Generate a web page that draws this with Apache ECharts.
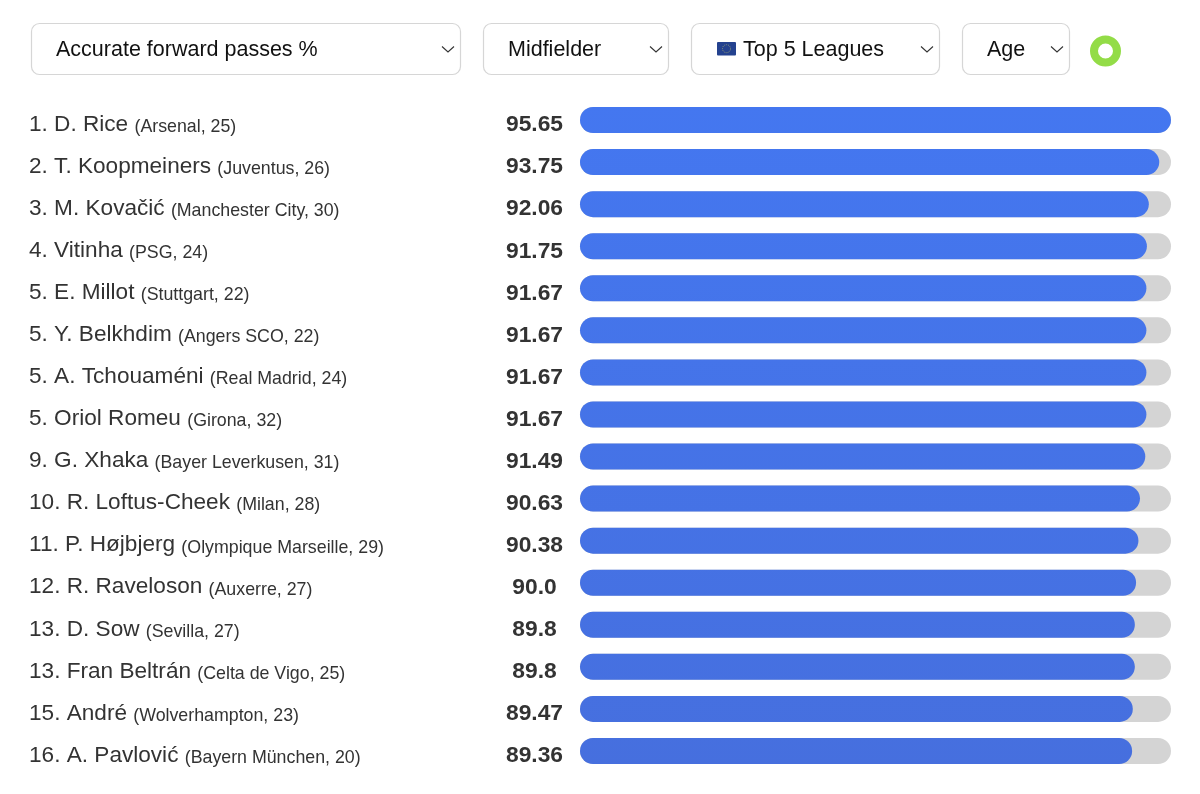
<!DOCTYPE html>
<html>
<head>
<meta charset="utf-8">
<style>
  html, body { margin: 0; padding: 0; background: #fff; }
  #chart { width: 1200px; height: 794px; }
</style>
<script src="https://cdn.jsdelivr.net/npm/echarts@6/dist/echarts.min.js"></script>
</head>
<body>
<div id="chart"></div>
<script>
const ranks = [1, 2, 3, 4, 5, 5, 5, 5, 9, 10, 11, 12, 13, 13, 15, 16];
const players = ["D. Rice", "T. Koopmeiners", "M. Kovačić", "Vitinha", "E. Millot", "Y. Belkhdim", "A. Tchouaméni", "Oriol Romeu", "G. Xhaka", "R. Loftus-Cheek", "P. Højbjerg", "R. Raveloson", "D. Sow", "Fran Beltrán", "André", "A. Pavlović"];
const teams = ["Arsenal", "Juventus", "Manchester City", "PSG", "Stuttgart", "Angers SCO", "Real Madrid", "Girona", "Bayer Leverkusen", "Milan", "Olympique Marseille", "Auxerre", "Sevilla", "Celta de Vigo", "Wolverhampton", "Bayern München"];
const ages = [25, 26, 30, 24, 22, 22, 24, 32, 31, 28, 29, 27, 27, 25, 23, 20];
const values = [95.65, 93.75, 92.06, 91.75, 91.67, 91.67, 91.67, 91.67, 91.49, 90.63, 90.38, 90.0, 89.8, 89.8, 89.47, 89.36];
const valueLabels = ["95.65", "93.75", "92.06", "91.75", "91.67", "91.67", "91.67", "91.67", "91.49", "90.63", "90.38", "90.0", "89.8", "89.8", "89.47", "89.36"];

// dropdowns above the chart: label, box left, box right, text left
const dropdowns = [
  ["Accurate forward passes %", 31, 461, 56],
  ["Midfielder", 483, 669, 508],
  ["Top 5 Leagues", 691, 940, 743],
  ["Age", 962, 1070, 987]
];

const font = '"Liberation Sans", Arial, sans-serif';

const headerItems = [];
dropdowns.forEach(function (d) {
  headerItems.push({
    type: "rect",
    shape: { x: d[1] + 0.5, y: 23.5, width: d[2] - d[1] - 1, height: 51, r: 8 },
    style: { fill: "#fff", stroke: "#d6d6d6", lineWidth: 1.2 }
  });
  headerItems.push({
    type: "text",
    x: d[3],
    y: 50.5,
    style: { text: d[0], font: "21.5px " + font, fill: "#111", verticalAlign: "middle" }
  });
  headerItems.push({
    type: "polyline",
    shape: { points: [[d[2] - 19, 46.5], [d[2] - 13, 52], [d[2] - 7, 46.5]] },
    style: { fill: "none", stroke: "#333", lineWidth: 1.1 }
  });
});
// EU flag in front of "Top 5 Leagues"
headerItems.push({
  type: "rect",
  shape: { x: 717, y: 42, width: 19, height: 13.5, r: 1 },
  style: { fill: "#24428f" }
});
headerItems.push({
  type: "circle",
  shape: { cx: 726.5, cy: 48.7, r: 4 },
  style: { fill: "none", stroke: "#8f9a78", lineWidth: 1, lineDash: [1, 1] }
});
// loading ring
headerItems.push({
  type: "ring",
  shape: { cx: 1105.5, cy: 51, r: 15.5, r0: 7.5 },
  style: { fill: "#93dc47" }
});

const chart = echarts.init(document.getElementById("chart"));
chart.setOption({
  animation: false,
  backgroundColor: "#fff",
  graphic: headerItems,
  grid: { left: 580, right: 29, top: 99, height: 673 },
  xAxis: { type: "value", min: 0, max: 95.65, show: false },
  yAxis: [
    {
      type: "category",
      inverse: true,
      position: "left",
      data: players,
      axisLine: { show: false },
      axisTick: { show: false },
      axisLabel: {
        interval: 0,
        align: "left",
        margin: 551,
        padding: [6, 0, 0, 0],
        formatter: function (name, i) {
          return "{name|" + ranks[i] + ". " + name + " }{team|(" + teams[i] + ", " + ages[i] + ")}";
        },
        rich: {
          name: { fontFamily: font, fontSize: 22.6, color: "#333", lineHeight: 26, verticalAlign: "bottom" },
          team: { fontFamily: font, fontSize: 17.8, color: "#333", lineHeight: 24, verticalAlign: "bottom" }
        }
      }
    },
    {
      type: "category",
      inverse: true,
      position: "left",
      data: valueLabels,
      axisLine: { show: false },
      axisTick: { show: false },
      axisLabel: {
        interval: 0,
        align: "center",
        margin: 45.5,
        padding: [10, 0, 0, 0],
        formatter: "{v|{value}}",
        rich: {
          v: { fontFamily: font, fontSize: 22.8, fontWeight: "bold", color: "#333" }
        }
      }
    }
  ],
  series: [
    {
      type: "bar",
      data: values,
      barWidth: 26,
      showBackground: true,
      backgroundStyle: { color: "#d4d4d4", borderRadius: 13 },
      itemStyle: {
        borderRadius: 13,
        color: {
          type: "linear",
          global: true,
          x: 0, y: 99, x2: 0, y2: 772,
          colorStops: [
            { offset: 0, color: "#4477f0" },
            { offset: 1, color: "#466fde" }
          ]
        }
      }
    }
  ]
});
</script>
</body>
</html>
